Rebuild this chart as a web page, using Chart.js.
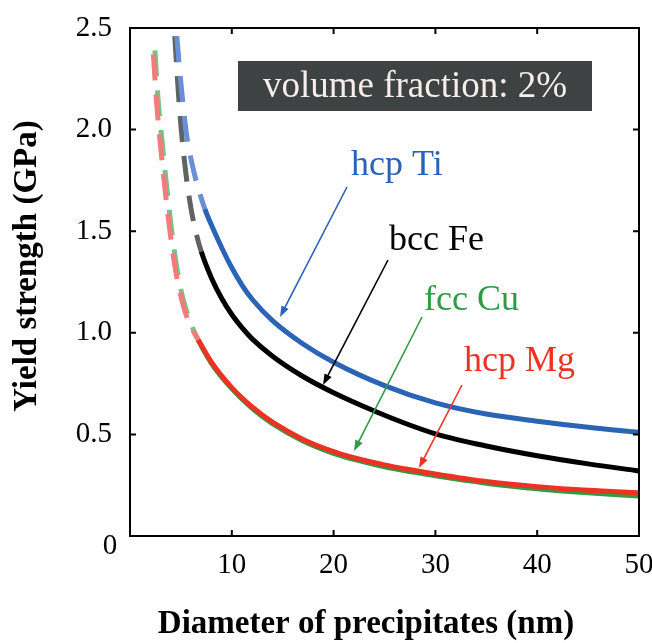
<!DOCTYPE html>
<html>
<head>
<meta charset="utf-8">
<script src="https://cdn.jsdelivr.net/npm/chart.js@4/dist/chart.umd.min.js"></script>
<style>
  html, body { margin: 0; padding: 0; background: #fff; }
</style>
</head>
<body>
<canvas id="chart" width="652" height="643"></canvas>
<script>
// diameter (nm) and yield strength (GPa)
const tiD = [4.6, 4.9, 5.2, 5.6, 6.1, 6.6, 7.35, 8, 9, 10, 11, 12, 14, 17, 20, 25, 30, 35, 40, 45, 50];
const tiY = [2.46, 2.28, 2.13, 1.96, 1.83, 1.73, 1.61, 1.53, 1.42, 1.32, 1.235, 1.165, 1.06, 0.945, 0.855, 0.74, 0.655, 0.60, 0.565, 0.535, 0.51];
const feD = [4.4, 4.7, 5.0, 5.5, 6.0, 6.5, 7.0, 8, 9, 10, 11, 12, 14, 17, 20, 24, 27, 30, 35, 40, 45, 50];
const feY = [2.46, 2.22, 2.02, 1.78, 1.61, 1.49, 1.40, 1.27, 1.17, 1.09, 1.025, 0.97, 0.885, 0.785, 0.705, 0.615, 0.555, 0.503, 0.443, 0.395, 0.355, 0.32];
const cuD = [2.45, 2.8, 3.2, 3.6, 4.1, 4.6, 5.1, 5.6, 6.1, 6.7, 8, 10, 12, 14, 17, 20, 22, 25, 28, 30, 35, 40, 45, 50];
const cuY = [2.39, 2.12, 1.92, 1.72, 1.50, 1.32, 1.19, 1.10, 1.03, 0.965, 0.85, 0.725, 0.628, 0.553, 0.468, 0.407, 0.377, 0.341, 0.313, 0.296, 0.26, 0.233, 0.213, 0.197];
const mgD = [2.3, 2.6, 3.0, 3.5, 4.0, 4.5, 5.0, 5.5, 6.0, 6.7, 8, 10, 12, 14, 17, 20, 22, 25, 28, 30, 35, 40, 45, 50];
const mgY = [2.37, 2.14, 1.92, 1.68, 1.47, 1.30, 1.18, 1.09, 1.03, 0.965, 0.855, 0.73, 0.635, 0.56, 0.475, 0.415, 0.385, 0.35, 0.322, 0.305, 0.268, 0.243, 0.225, 0.213];

// below these diameters the curves are drawn dashed
const tiSolidFrom = 7.35;
const feSolidFrom = 7.0;
const cuSolidFrom = 6.7;
const mgSolidFrom = 6.7;

const xTicks = [0, 10, 20, 30, 40, 50];
const yTicks = [0, 0.5, 1.0, 1.5, 2.0, 2.5];
const originLabel = '0';

const serif = '"Liberation Serif", "Times New Roman", serif';

function pts(xs, ys) {
    return xs.map((x, i) => ({x: x, y: ys[i]}));
}

function seg(solidFrom, solid, dashed) {
    return {
        borderColor: c => c.p0.parsed.x < solidFrom - 1e-6 ? dashed : solid,
        borderDash: c => c.p0.parsed.x < solidFrom - 1e-6 ? [26, 14] : []
    };
}

function line(data, solidFrom, solid, dashed) {
    return {
        data: data,
        borderColor: solid,
        borderWidth: 5,
        pointRadius: 0,
        cubicInterpolationMode: 'monotone',
        segment: seg(solidFrom, solid, dashed)
    };
}

function arrow(ctx, x1, y1, x2, y2, color) {
    const a = Math.atan2(y2 - y1, x2 - x1);
    const len = 11, w = 4;
    ctx.strokeStyle = color;
    ctx.fillStyle = color;
    ctx.lineWidth = 1.6;
    ctx.beginPath();
    ctx.moveTo(x1, y1);
    ctx.lineTo(x2 - Math.cos(a) * len * 0.8, y2 - Math.sin(a) * len * 0.8);
    ctx.stroke();
    ctx.beginPath();
    ctx.moveTo(x2, y2);
    ctx.lineTo(x2 - Math.cos(a) * len - Math.sin(a) * w, y2 - Math.sin(a) * len + Math.cos(a) * w);
    ctx.lineTo(x2 - Math.cos(a) * len + Math.sin(a) * w, y2 - Math.sin(a) * len - Math.cos(a) * w);
    ctx.closePath();
    ctx.fill();
}

const decor = {
    id: 'decor',
    afterDraw(chart) {
        const ctx = chart.ctx;
        const a = chart.chartArea;
        const xs = chart.scales.x, ys = chart.scales.y;
        ctx.save();

        // frame with inward ticks on all four sides
        ctx.strokeStyle = '#000';
        ctx.lineWidth = 2;
        ctx.strokeRect(a.left, a.top, a.right - a.left, a.bottom - a.top);
        ctx.beginPath();
        xTicks.slice(1, -1).forEach(v => {
            const p = xs.getPixelForValue(v);
            ctx.moveTo(p, a.bottom); ctx.lineTo(p, a.bottom - 6);
            ctx.moveTo(p, a.top); ctx.lineTo(p, a.top + 6);
        });
        yTicks.slice(1, -1).forEach(v => {
            const p = ys.getPixelForValue(v);
            ctx.moveTo(a.left, p); ctx.lineTo(a.left + 6, p);
            ctx.moveTo(a.right, p); ctx.lineTo(a.right - 6, p);
        });
        ctx.stroke();

        // shared origin label
        ctx.fillStyle = '#000';
        ctx.font = '29px ' + serif;
        ctx.textAlign = 'center';
        ctx.textBaseline = 'middle';
        ctx.fillText(originLabel, a.left - 20, a.bottom + 10);

        // axis titles
        ctx.font = 'bold 33px ' + serif;
        ctx.fillText('Diameter of precipitates (nm)', 366, 624);
        ctx.save();
        ctx.translate(27, 266);
        ctx.rotate(-Math.PI / 2);
        ctx.fillText('Yield strength (GPa)', 0, 0);
        ctx.restore();

        // volume fraction box
        ctx.fillStyle = '#3f4243';
        ctx.fillRect(238, 61, 354, 50);
        ctx.fillStyle = '#f6eeea';
        ctx.font = '37px ' + serif;
        ctx.fillText('volume fraction: 2%', 415, 87);

        // curve labels
        ctx.textAlign = 'left';
        ctx.textBaseline = 'alphabetic';
        ctx.font = '36px ' + serif;
        ctx.fillStyle = '#2a62b8';
        ctx.fillText('hcp Ti', 351, 175);
        ctx.fillStyle = '#000';
        ctx.fillText('bcc Fe', 389, 250);
        ctx.fillStyle = '#2e9b45';
        ctx.fillText('fcc Cu', 424, 310);
        ctx.fillStyle = '#ec3323';
        ctx.fillText('hcp Mg', 464, 371);

        arrow(ctx, 347, 187, 280, 317, '#2a62b8');
        arrow(ctx, 388, 260, 323, 385, '#000');
        arrow(ctx, 422, 317, 354, 451, '#2e9b45');
        arrow(ctx, 462, 385, 419, 468, '#ec3323');

        ctx.restore();
    }
};

new Chart(document.getElementById('chart'), {
    type: 'line',
    data: {
        datasets: [
            line(pts(tiD, tiY), tiSolidFrom, '#2b63b5', '#6b8fd6'),
            line(pts(feD, feY), feSolidFrom, '#000000', '#5f6363'),
            line(pts(mgD, mgY), mgSolidFrom, '#ec3323', '#f27b7b'),
            line(pts(cuD, cuY), cuSolidFrom, '#2e9b45', '#72c487')
        ]
    },
    options: {
        responsive: false,
        animation: false,
        devicePixelRatio: 1,
        layout: {padding: {left: 0, right: 13, top: 28, bottom: 0}},
        plugins: {legend: {display: false}, tooltip: {enabled: false}},
        scales: {
            x: {
                type: 'linear',
                min: 0, max: 50,
                grid: {display: false, drawTicks: false},
                border: {display: false},
                afterBuildTicks: axis => { axis.ticks = xTicks.map(v => ({value: v})); },
                afterFit: axis => {
                    axis.height = 107;
                    axis.paddingLeft = 0;
                    axis.paddingRight = 0;
                },
                ticks: {
                    padding: 12,
                    color: '#000',
                    font: {family: serif, size: 29},
                    callback: v => v === 0 ? '' : String(v)
                }
            },
            y: {
                type: 'linear',
                min: 0, max: 2.5,
                grid: {display: false, drawTicks: false},
                border: {display: false},
                afterBuildTicks: axis => { axis.ticks = yTicks.map(v => ({value: v})); },
                afterFit: axis => {
                    axis.width = 130;
                    axis.paddingTop = 0;
                    axis.paddingBottom = 0;
                },
                ticks: {
                    padding: 18,
                    color: '#000',
                    font: {family: serif, size: 29},
                    callback: v => v === 0 ? '' : v.toFixed(1)
                }
            }
        }
    },
    plugins: [decor]
});
</script>
</body>
</html>
